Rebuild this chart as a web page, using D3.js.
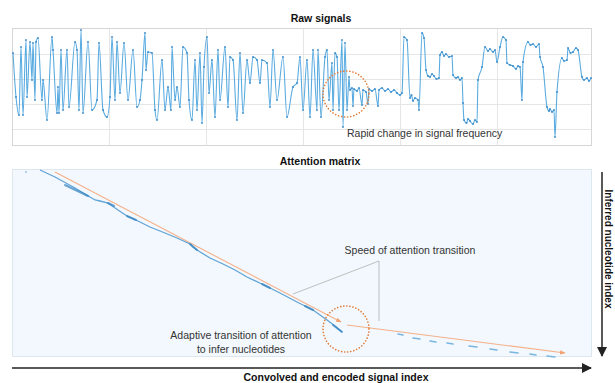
<!DOCTYPE html>
<html><head><meta charset="utf-8">
<script src="https://cdn.jsdelivr.net/npm/d3@7"></script>
<style>
html,body{margin:0;padding:0;background:#fff;}
svg{display:block;font-family:"Liberation Sans",Arial,Helvetica,sans-serif;}
</style></head><body><div id="chart"></div>
<script>
// raw current trace: [signal index, level]
const rawSignal = [
  [10,126],[40,82],[70,64],[90,132],[110,64],[140,139],[150,82],[180,137],[200,99],[210,136],
  [230,79],[240,137],[260,141],[300,79],[310,99],[350,59],[400,142],[410,129],[450,66],[460,92],
  [470,66],[490,129],[510,69],[550,129],[570,72],[630,137],[650,129],[670,69],[690,149],[710,66],
  [760,137],[800,69],[850,79],[870,136],[910,69],[950,62],[980,82],[1000,142],[1030,79],[1050,137],
  [1080,86],[1120,136],[1160,79],[1210,129],[1250,72],[1280,79],[1300,99],[1330,146],[1340,109],[1360,127],
  [1400,126],[1430,69],[1450,59],[1500,119],[1530,69],[1560,92],[1590,69],[1600,132],[1630,79],[1650,92],
  [1680,72],[1710,132],[1750,126],[1770,79],[1800,59],[1830,119],[1850,69],[1880,126],[1900,56],[1920,112],
  [1950,142],[1970,86],[2000,119],[2030,62],[2060,129],[2080,79],[2130,132],[2160,72],[2180,122],[2210,119],
  [2250,59],[2280,126],[2310,66],[2350,119],[2380,96],[2410,122],[2450,119],[2480,96],[2500,119],[2550,116],
  [2580,72],[2610,129],[2650,79],[2710,122],[2750,62],[2810,92],[2850,96],[2880,122],[2910,69],[2950,119],
  [2980,62],[3010,129],[3050,69],[3060,129],[3090,62],[3130,122],[3150,129],[3170,79],[3200,116],[3210,69],
  [3230,126],[3250,122],[3270,69],[3300,139],[3310,52],[3330,136],[3350,69],[3370,102],[3380,89],[3400,91],
  [3410,73],[3420,90],[3450,88],[3470,91],[3500,74],[3510,89],[3540,87],[3560,75],[3570,90],[3600,88],
  [3630,90],[3660,73],[3670,89],[3700,91],[3730,88],[3760,90],[3790,87],[3820,89],[3850,86],[3880,84],
  [3900,86],[3920,142],[3950,139],[3980,81],[3995,84],[4010,78],[4030,81],[4060,79],[4070,69],[4100,146],
  [4120,141],[4140,109],[4160,103],[4180,102],[4200,105],[4220,103],[4245,100],[4270,101],[4280,124],[4300,127],
  [4320,123],[4340,125],[4370,122],[4400,123],[4410,104],[4440,101],[4460,102],[4480,99],[4500,101],[4510,76],
  [4520,59],[4545,56],[4560,60],[4580,58],[4610,55],[4630,59],[4650,57],[4660,99],[4700,112],[4730,132],
  [4760,128],[4780,130],[4810,127],[4830,129],[4850,117],[4880,132],[4910,142],[4940,139],[4950,116],[4980,114],
  [5010,113],[5040,110],[5060,113],[5080,112],[5100,79],[5110,117],[5160,137],[5185,134],[5210,135],[5240,132],
  [5270,135],[5280,122],[5310,112],[5350,72],[5370,68],[5380,70],[5400,67],[5420,69],[5430,42],[5450,87],
  [5500,121],[5520,118],[5550,119],[5560,131],[5585,126],[5610,127],[5640,131],[5660,129],[5700,102],[5720,99],
  [5750,101],[5770,98],[5790,101]
];
const xGrid = [970, 1940, 2910, 3880, 4850];
const yGrid = [50, 75, 100, 125];

// attention matrix: [signal index, nucleotide index]
const attnPath = [
  [280,1],[430,8],[630,19],[780,28],[830,31],[880,32],[960,34],[1060,41],[1150,47],[1280,53],
  [1380,58],[1530,64],[1650,69],[1780,75],[1810,78],[1850,81],[1980,89],[2110,95],[2230,101],[2350,108],
  [2500,115],[2680,124],[2850,133],[3010,141],[3150,151],[3230,157],[3300,163]
];
const attnDot = [[140, 3]];
const attnBlobs = [
  [530,16,760,27],[960,34,1020,37],[1150,47,1240,51],[1780,75,1850,81],
  [2500,115,2580,119],[2930,137,3010,141],[3210,156,3300,163]
];
const attnDashes = [
  [3860,3910,165],[4010,4080,169],[4180,4240,172],[4350,4410,174],[4570,4650,177],
  [4780,4850,180],[4980,5060,183],[5180,5240,185],[5350,5430,187]
];
const speedFast = [[430,3],[3290,153]];
const speedSlow = [[3350,156],[5530,184]];
const speedLeader = [[2810,125],[3670,92],[3670,152]];
const rapidMark = [3340, 85];
const adaptiveMark = [3340, 160];

const W = 615, H = 383;
const svg = d3.select("#chart").append("svg").attr("width", W).attr("height", H);
const defs = svg.append("defs");
defs.append("marker").attr("id", "orArrow").attr("viewBox", "0 0 10 10").attr("refX", 9).attr("refY", 5)
  .attr("markerWidth", 5).attr("markerHeight", 5).attr("orient", "auto")
  .append("path").attr("d", "M0,1L10,5L0,9Z").attr("fill", "#f2a070");
defs.append("marker").attr("id", "blkArrow").attr("viewBox", "0 0 10 10").attr("refX", 9).attr("refY", 5)
  .attr("markerWidth", 10).attr("markerHeight", 10).attr("orient", "auto").attr("markerUnits", "userSpaceOnUse")
  .append("path").attr("d", "M0,0L10,5L0,10Z").attr("fill", "#222");

const x = d3.scaleLinear().domain([0, 5800]).range([12, 592]);
const yRaw = d3.scaleLinear().domain([33, 151]).range([146, 28]);
const yNuc = d3.scaleLinear().domain([0, 188]).range([169, 357]);

// ---- raw signals panel
svg.append("text").attr("x", 321).attr("y", 22).attr("text-anchor", "middle")
  .attr("font-size", 10.5).attr("font-weight", "bold").attr("fill", "#111").text("Raw signals");
svg.append("rect").attr("x", 12.5).attr("y", 28.5).attr("width", 579).attr("height", 117)
  .attr("fill", "#fff").attr("stroke", "#d6d6d6");
const grid = svg.append("g").attr("stroke", "#e6e6e6").attr("stroke-width", 1);
grid.selectAll("line.v").data(xGrid).join("line").attr("class", "v")
  .attr("x1", (d) => Math.round(x(d)) + 0.5).attr("x2", (d) => Math.round(x(d)) + 0.5)
  .attr("y1", 29).attr("y2", 145);
grid.selectAll("line.h").data(yGrid).join("line").attr("class", "h")
  .attr("x1", 13).attr("x2", 591)
  .attr("y1", (d) => Math.round(yRaw(d)) + 0.5).attr("y2", (d) => Math.round(yRaw(d)) + 0.5);

svg.append("path").datum(rawSignal).attr("fill", "none").attr("stroke", "#5aabe0")
  .attr("stroke-width", 1.1).attr("stroke-linejoin", "round")
  .attr("d", d3.line().x((d) => x(d[0])).y((d) => yRaw(d[1])).curve(d3.curveMonotoneX));
svg.append("g").selectAll("circle").data(rawSignal).join("circle")
  .attr("cx", (d) => x(d[0])).attr("cy", (d) => yRaw(d[1])).attr("r", 1.1)
  .attr("fill", "#2a80c4").attr("fill-opacity", 0.75);

svg.append("circle").attr("cx", x(rapidMark[0])).attr("cy", yRaw(rapidMark[1])).attr("r", 23)
  .attr("fill", "none").attr("stroke", "#e07a35").attr("stroke-width", 1.6)
  .attr("stroke-dasharray", "0.1 3").attr("stroke-linecap", "round");
svg.append("text").attr("x", 347).attr("y", 137).attr("font-size", 10.5).attr("fill", "#333")
  .text("Rapid change in signal frequency");

// ---- attention matrix panel
svg.append("text").attr("x", 320).attr("y", 165).attr("text-anchor", "middle")
  .attr("font-size", 10.5).attr("font-weight", "bold").attr("fill", "#111").text("Attention matrix");
svg.append("rect").attr("x", 12.5).attr("y", 169.5).attr("width", 579).attr("height", 187)
  .attr("fill", "#f2f8fd").attr("stroke", "#dce7ef");

const line = d3.line().x((d) => x(d[0])).y((d) => yNuc(d[1]));
svg.append("path").datum(speedFast).attr("fill", "none").attr("stroke", "#f5b089").attr("stroke-width", 1.1)
  .attr("marker-end", "url(#orArrow)").attr("d", line);
svg.append("path").datum(speedSlow).attr("fill", "none").attr("stroke", "#f5b089").attr("stroke-width", 1.1)
  .attr("marker-end", "url(#orArrow)").attr("d", line);

svg.append("path").datum(attnPath).attr("fill", "none").attr("stroke", "#3d8fcc").attr("stroke-width", 1.3)
  .attr("stroke-opacity", 0.8).attr("d", line);
svg.selectAll("line.blob").data(attnBlobs).join("line").attr("class", "blob")
  .attr("x1", (d) => x(d[0])).attr("y1", (d) => yNuc(d[1])).attr("x2", (d) => x(d[2])).attr("y2", (d) => yNuc(d[3]))
  .attr("stroke", "#2f7fbf").attr("stroke-width", 2).attr("stroke-linecap", "round").attr("stroke-opacity", 0.7);
svg.selectAll("circle.dot").data(attnDot).join("circle").attr("class", "dot")
  .attr("cx", (d) => x(d[0])).attr("cy", (d) => yNuc(d[1])).attr("r", 0.9).attr("fill", "#8fbfe0");
svg.selectAll("line.dash").data(attnDashes).join("line").attr("class", "dash")
  .attr("x1", (d) => x(d[0])).attr("y1", (d) => yNuc(d[2])).attr("x2", (d) => x(d[1])).attr("y2", (d) => yNuc(d[2] + 1))
  .attr("stroke", "#7ab6e0").attr("stroke-width", 1.6).attr("stroke-linecap", "round");

svg.append("path").datum(speedLeader).attr("fill", "none").attr("stroke", "#b8b8b8").attr("stroke-width", 0.9)
  .attr("d", line);
svg.append("circle").attr("cx", x(adaptiveMark[0])).attr("cy", yNuc(adaptiveMark[1])).attr("r", 23)
  .attr("fill", "none").attr("stroke", "#e07a35").attr("stroke-width", 1.6)
  .attr("stroke-dasharray", "0.1 3").attr("stroke-linecap", "round");

svg.append("text").attr("x", 410).attr("y", 254).attr("text-anchor", "middle").attr("font-size", 10.5)
  .attr("fill", "#333").text("Speed of attention transition");
const adapt = svg.append("text").attr("text-anchor", "middle").attr("font-size", 10.5).attr("fill", "#333");
adapt.append("tspan").attr("x", 241).attr("y", 339).text("Adaptive transition of attention");
adapt.append("tspan").attr("x", 241).attr("y", 353).text("to infer nucleotides");

// ---- axes arrows
svg.append("line").attr("x1", 12).attr("x2", 591).attr("y1", 368).attr("y2", 368)
  .attr("stroke", "#222").attr("stroke-width", 1.5).attr("marker-end", "url(#blkArrow)");
svg.append("line").attr("x1", 602).attr("x2", 602).attr("y1", 172).attr("y2", 356)
  .attr("stroke", "#222").attr("stroke-width", 1.5).attr("marker-end", "url(#blkArrow)");
svg.append("text").attr("x", 336).attr("y", 381).attr("text-anchor", "middle").attr("font-size", 10.5)
  .attr("font-weight", "bold").attr("fill", "#111").text("Convolved and encoded signal index");
svg.append("text").attr("transform", "translate(605,249) rotate(90)").attr("text-anchor", "middle")
  .attr("font-size", 10).attr("font-weight", "bold").attr("fill", "#111").text("Inferred nucleotide index");
</script></body></html>
